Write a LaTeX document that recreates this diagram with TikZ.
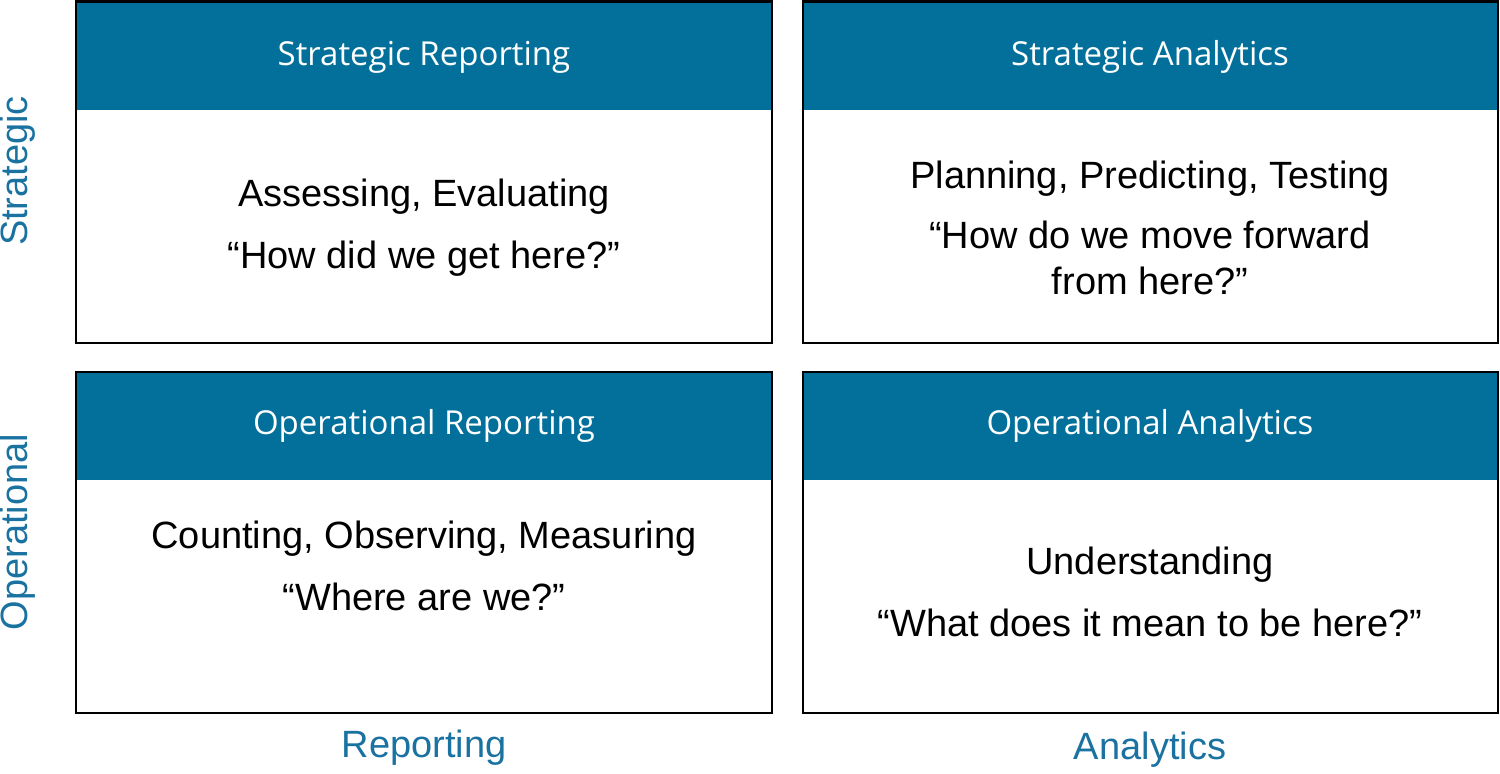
\documentclass[tikz,border=0pt]{standalone}
\usepackage{fontspec}
\setmainfont{Liberation Sans}
\newfontfamily\hdfont{Open Sans}
\definecolor{hd}{HTML}{02709A}
\definecolor{ax}{HTML}{1A72A0}
\begin{document}
\begin{tikzpicture}[x=1pt,y=-1pt,
  box/.style={draw=black,line width=2.5pt},
  hdr/.style={fill=hd},
  htxt/.style={text=white,font=\hdfont\fontsize{33}{40}\selectfont},
  btxt/.style={align=center,font=\fontsize{38}{46}\selectfont},
  axl/.style={text=ax,font=\fontsize{38}{46}\selectfont}]
\useasboundingbox (0,0) rectangle (1500,774);
\fill[hdr] (76,0) rectangle (772,110);
\fill[hdr] (803,0) rectangle (1498,110);
\fill[hdr] (76,372) rectangle (772,480);
\fill[hdr] (803,372) rectangle (1498,480);
\draw[box] (76,1.25) rectangle (772,343);
\draw[box] (803,1.25) rectangle (1498,343);
\draw[box] (76,372) rectangle (772,713);
\draw[box] (803,372) rectangle (1498,713);
\node[htxt] (h1) at (424,57) {Strategic Reporting};
\node[htxt] (h2) at (1150,57) {Strategic Analytics};
\node[htxt] (h3) at (424,426) {Operational Reporting};
\node[htxt] (h4) at (1150,426) {Operational Analytics};
\node[btxt] (b1) at (424,228) {Assessing, Evaluating\\[16pt]“How did we get here?”};
\node[btxt] (b2) at (1150,228) {Planning, Predicting, Testing\\[14pt]“How do we move forward\\from here?”};
\node[btxt] (b3) at (424,566) {Counting, Observing, Measuring\\[16pt]“Where are we?”};
\node[btxt] (b4) at (1150,592) {Understanding\\[16pt]“What does it mean to be here?”};
\node[axl,rotate=90] (a1) at (18,171) {Strategic};
\node[axl,rotate=90] (a2) at (18,532) {Operational};
\node[axl] (a3) at (424,748) {Reporting};
\node[axl] (a4) at (1150,750) {Analytics};
\end{tikzpicture}
\end{document}
